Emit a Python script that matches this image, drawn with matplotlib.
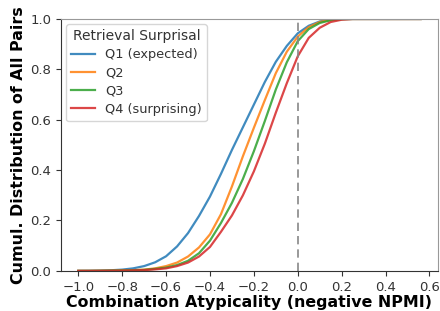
import numpy as np
import matplotlib.pyplot as plt

x_vals = [-1.0, -0.95, -0.9, -0.85, -0.8, -0.75, -0.7, -0.65, -0.6, -0.55,
          -0.5, -0.45, -0.4, -0.35, -0.3, -0.25, -0.2, -0.15, -0.1, -0.05,
          0.0, 0.05, 0.1, 0.15, 0.2, 0.25, 0.3, 0.4, 0.5, 0.56]

q1 = [0.0, 0.0003, 0.001, 0.0025, 0.005, 0.01, 0.019, 0.034, 0.058, 0.097,
      0.15, 0.218, 0.295, 0.385, 0.48, 0.57, 0.66, 0.75, 0.83, 0.893,
      0.943, 0.973, 0.99, 0.997, 1.0, 1.0, 1.0, 1.0, 1.0, 1.0]
q2 = [0.0, 0.0, 0.0005, 0.001, 0.002, 0.003, 0.005, 0.01, 0.019, 0.033,
      0.057, 0.093, 0.145, 0.225, 0.335, 0.455, 0.568, 0.678, 0.785, 0.87,
      0.93, 0.968, 0.988, 0.997, 1.0, 1.0, 1.0, 1.0, 1.0, 1.0]
q3 = [0.0, 0.0, 0.0003, 0.0008, 0.0015, 0.0025, 0.004, 0.008, 0.013, 0.023,
      0.04, 0.07, 0.12, 0.19, 0.27, 0.365, 0.475, 0.595, 0.72, 0.828,
      0.912, 0.96, 0.984, 0.995, 0.999, 1.0, 1.0, 1.0, 1.0, 1.0]
q4 = [0.0, 0.0, 0.0002, 0.0005, 0.001, 0.002, 0.003, 0.006, 0.01, 0.019,
      0.033, 0.057, 0.095, 0.155, 0.22, 0.30, 0.395, 0.505, 0.628, 0.745,
      0.852, 0.925, 0.965, 0.988, 0.997, 1.0, 1.0, 1.0, 1.0, 1.0]

labels = ["Q1 (expected)", "Q2", "Q3", "Q4 (surprising)"]
colors = ["#1f77b4", "#ff7f0e", "#2ca02c", "#d62728"]


def main():
    fig = plt.figure(figsize=(4.4, 3.11), dpi=100)
    ax = fig.add_axes([0.139, 0.129, 0.856, 0.81])

    for ys, lab, c in zip([q1, q2, q3, q4], labels, colors):
        ax.plot(x_vals, ys, color=c, lw=1.6, alpha=0.85, label=lab)

    ax.axvline(0.0, color="#888888", ls=(0, (5, 3)), lw=1.2)

    ax.set_xlim(-1.078, 0.638)
    ax.set_ylim(0, 1.0)
    ax.set_xticks(np.arange(-1.0, 0.61, 0.2))
    ax.set_yticks(np.arange(0, 1.01, 0.2))
    ax.tick_params(labelsize=9.5, colors="#333333", labelcolor="#333333")

    ax.set_xlabel("Combination Atypicality (negative NPMI)", fontsize=11.4,
                  fontweight="bold", labelpad=1)
    ax.set_ylabel("Cumul. Distribution of All Pairs", fontsize=11.4,
                  fontweight="bold", labelpad=3)

    for s in ["left", "bottom"]:
        ax.spines[s].set_color("#333333")
    for s in ["top", "right"]:
        ax.spines[s].set_color("#999999")

    leg = ax.legend(title="Retrieval Surprisal", loc="upper left", fontsize=9.3,
                    title_fontsize=10, handlelength=1.8, borderaxespad=0.4,
                    labelspacing=0.4)
    leg.get_title().set_color("#333333")
    for t in leg.get_texts():
        t.set_color("#333333")

    fig.savefig("out.png", dpi=100)


if __name__ == "__main__":
    main()
